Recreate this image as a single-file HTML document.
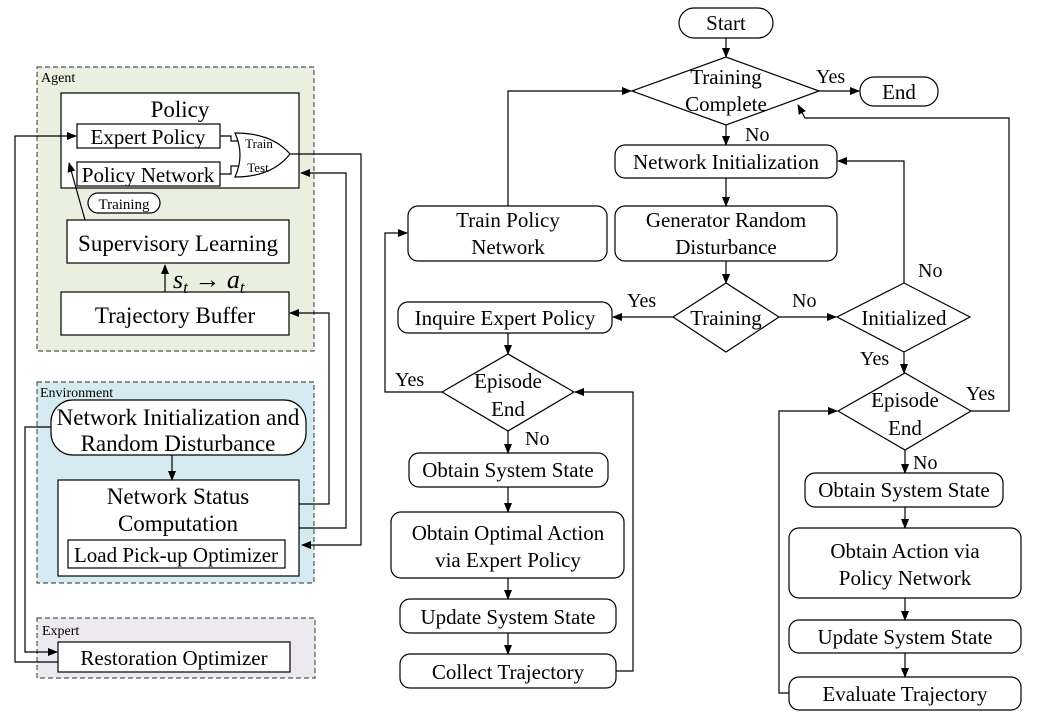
<!DOCTYPE html>
<html><head><meta charset="utf-8"><style>
html,body{margin:0;padding:0;background:#fff;}
svg{display:block;}
text{font-family:"Liberation Serif",serif;fill:#000;}
</style></head><body>
<svg width="1044" height="717" viewBox="0 0 1044 717" xmlns="http://www.w3.org/2000/svg">
<defs>
<marker id="a" markerWidth="10" markerHeight="8" refX="9" refY="4" orient="auto" markerUnits="userSpaceOnUse">
<path d="M0,0 L10,4 L0,8 Z" fill="#000"/></marker>
</defs>
<g stroke="#000" stroke-width="1.2" fill="#fff">
<rect x="37" y="67" width="277" height="284" fill="#eaefe0" stroke="#555" stroke-dasharray="5,3"/>
<rect x="37" y="382" width="277" height="201" fill="#d6ebf1" stroke="#555" stroke-dasharray="5,3"/>
<rect x="37" y="618" width="278" height="60" fill="#ebe8f0" stroke="#555" stroke-dasharray="5,3"/>
<rect x="61" y="93" width="238" height="95"/>
<rect x="77" y="124" width="143" height="24"/>
<rect x="77" y="162" width="143" height="24"/>
<path d="M235,133 Q245,155 235,177 Q272,177 290,154 Q272,133 235,133 Z"/>
<path d="M220,136 H231 V141 H238 M220,174 H231 V166 H238" fill="none"/>
<rect x="88" y="193" width="72" height="20" rx="10"/>
<rect x="67" y="220" width="222" height="43"/>
<rect x="61" y="292" width="228" height="43"/>
<rect x="51" y="400" width="255" height="55" rx="22"/>
<rect x="58" y="480" width="241" height="96"/>
<rect x="68" y="540" width="217" height="28"/>
<rect x="58" y="642" width="232" height="30"/>
<g fill="none">
<line x1="85" y1="220" x2="69" y2="163" marker-end="url(#a)"/>
<line x1="165" y1="292" x2="165" y2="265" marker-end="url(#a)"/>
<line x1="172" y1="455" x2="172" y2="480" marker-end="url(#a)"/>
<polyline points="290,154 361,154 361,545 302,545" marker-end="url(#a)"/>
<polyline points="299,528 346,528 346,173 301,173" marker-end="url(#a)"/>
<polyline points="299,504 329,504 329,313 290,313" marker-end="url(#a)"/>
<polyline points="51,427 25,427 25,652 57,652" marker-end="url(#a)"/>
<polyline points="58,662 15,662 15,136 76,136" marker-end="url(#a)"/>
</g>
<rect x="679" y="8" width="94" height="30" rx="15"/>
<polygon points="632,91 726,57 819,91 726,125"/>
<rect x="860" y="77" width="78" height="29" rx="14"/>
<rect x="615" y="145" width="222" height="33" rx="10"/>
<rect x="615" y="206" width="222" height="55" rx="10"/>
<rect x="408" y="206" width="199" height="55" rx="10"/>
<polygon points="673,317 726,283 779,317 726,352"/>
<polygon points="837,317 904,283 970,317 904,352"/>
<rect x="398" y="302" width="214" height="31" rx="10"/>
<polygon points="442,392 508,354 574,392 508,431"/>
<rect x="409" y="453" width="199" height="34" rx="10"/>
<rect x="391" y="512" width="233" height="66" rx="10"/>
<rect x="400" y="599" width="216" height="34" rx="10"/>
<rect x="400" y="654" width="216" height="34" rx="10"/>
<polygon points="838,411 905,373 971,411 905,450"/>
<rect x="805" y="473" width="198" height="34" rx="10"/>
<rect x="789" y="528" width="232" height="70" rx="10"/>
<rect x="789" y="620" width="232" height="33" rx="10"/>
<rect x="789" y="677" width="232" height="33" rx="10"/>
<g fill="none">
<line x1="726" y1="38" x2="726" y2="57" marker-end="url(#a)"/>
<line x1="819" y1="91" x2="859" y2="91" marker-end="url(#a)"/>
<line x1="726" y1="125" x2="726" y2="145" marker-end="url(#a)"/>
<line x1="726" y1="178" x2="726" y2="206" marker-end="url(#a)"/>
<line x1="726" y1="261" x2="726" y2="283" marker-end="url(#a)"/>
<polyline points="508,206 508,91 631,91" marker-end="url(#a)"/>
<line x1="673" y1="317" x2="613" y2="317" marker-end="url(#a)"/>
<line x1="779" y1="317" x2="836" y2="317" marker-end="url(#a)"/>
<polyline points="904,283 904,161 838,161" marker-end="url(#a)"/>
<line x1="904" y1="352" x2="904" y2="373" marker-end="url(#a)"/>
<polyline points="971,411 1009,411 1009,118 805,118 798,105" marker-end="url(#a)"/>
<line x1="508" y1="333" x2="508" y2="354" marker-end="url(#a)"/>
<polyline points="442,392 385,392 385,233 407,233" marker-end="url(#a)"/>
<line x1="508" y1="431" x2="508" y2="453" marker-end="url(#a)"/>
<line x1="508" y1="487" x2="508" y2="512" marker-end="url(#a)"/>
<line x1="508" y1="578" x2="508" y2="599" marker-end="url(#a)"/>
<line x1="508" y1="633" x2="508" y2="654" marker-end="url(#a)"/>
<polyline points="616,671 633,671 633,392 575,392" marker-end="url(#a)"/>
<line x1="905" y1="450" x2="905" y2="473" marker-end="url(#a)"/>
<line x1="905" y1="507" x2="905" y2="528" marker-end="url(#a)"/>
<line x1="905" y1="598" x2="905" y2="620" marker-end="url(#a)"/>
<line x1="905" y1="653" x2="905" y2="677" marker-end="url(#a)"/>
<polyline points="789,693 779,693 779,411 837,411" marker-end="url(#a)"/>
</g>
</g>
<text x="41" y="82" font-size="14">Agent</text>
<text x="40" y="397" font-size="14">Environment</text>
<text x="42" y="635" font-size="14">Expert</text>
<g text-anchor="middle">
<text x="180" y="117" font-size="23">Policy</text>
<text x="148" y="144" font-size="21">Expert Policy</text>
<text x="148" y="182" font-size="21">Policy Network</text>
<text x="259" y="148" font-size="13">Train</text>
<text x="258" y="172" font-size="13">Test</text>
<text x="124" y="209" font-size="15">Training</text>
<text x="178" y="251" font-size="23">Supervisory Learning</text>
<text x="175" y="323" font-size="23">Trajectory Buffer</text>
<text x="178" y="425" font-size="23">Network Initialization and</text>
<text x="178" y="451" font-size="23">Random Disturbance</text>
<text x="178" y="504" font-size="23">Network Status</text>
<text x="178" y="531" font-size="23">Computation</text>
<text x="176" y="562" font-size="21">Load Pick-up Optimizer</text>
<text x="174" y="665" font-size="21">Restoration Optimizer</text>
</g>
<text x="173" y="288" font-size="26" font-style="italic">s<tspan font-size="17" dy="5">t</tspan><tspan dy="-5" font-style="normal"> → </tspan>a<tspan font-size="17" dy="5">t</tspan></text>
<g text-anchor="middle" font-size="21">
<text x="726" y="30">Start</text>
<text x="726" y="84">Training</text>
<text x="726" y="111">Complete</text>
<text x="899" y="99">End</text>
<text x="726" y="169">Network Initialization</text>
<text x="726" y="227">Generator Random</text>
<text x="726" y="254">Disturbance</text>
<text x="508" y="227">Train Policy</text>
<text x="508" y="254">Network</text>
<text x="726" y="325">Training</text>
<text x="904" y="325">Initialized</text>
<text x="505" y="325">Inquire Expert Policy</text>
<text x="508" y="388">Episode</text>
<text x="508" y="416">End</text>
<text x="508" y="477">Obtain System State</text>
<text x="508" y="540">Obtain Optimal Action</text>
<text x="508" y="567">via Expert Policy</text>
<text x="508" y="624">Update System State</text>
<text x="508" y="679">Collect Trajectory</text>
<text x="905" y="407">Episode</text>
<text x="905" y="435">End</text>
<text x="904" y="497">Obtain System State</text>
<text x="905" y="558">Obtain Action via</text>
<text x="905" y="585">Policy Network</text>
<text x="905" y="644">Update System State</text>
<text x="905" y="701">Evaluate Trajectory</text>
</g>
<g font-size="20">
<text x="816" y="83">Yes</text>
<text x="745" y="141">No</text>
<text x="627" y="307">Yes</text>
<text x="792" y="307">No</text>
<text x="918" y="277">No</text>
<text x="860" y="365">Yes</text>
<text x="966" y="400">Yes</text>
<text x="395" y="386">Yes</text>
<text x="525" y="445">No</text>
<text x="913" y="469">No</text>
</g>
</svg>
</body></html>
